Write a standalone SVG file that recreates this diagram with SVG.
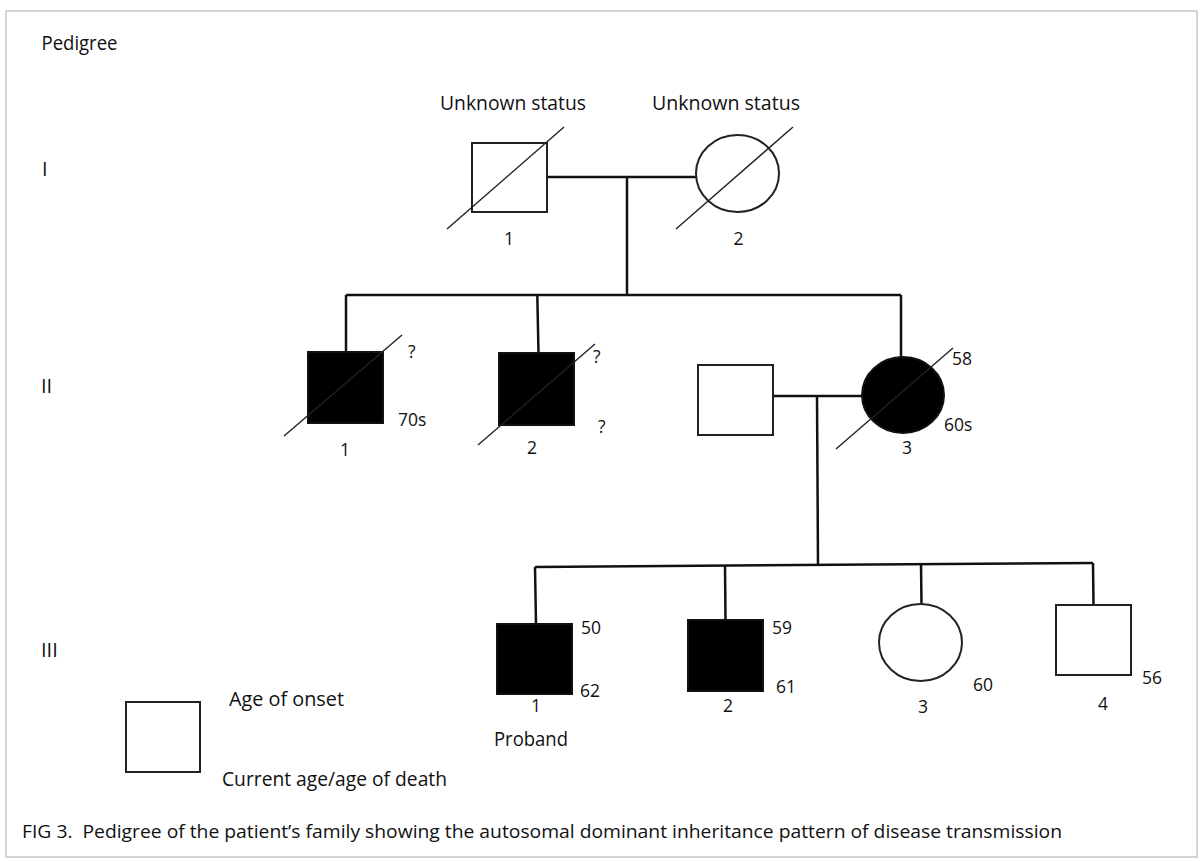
<svg xmlns="http://www.w3.org/2000/svg" width="1203" height="861" viewBox="0 0 1203 861">
<style>
text{font-family:"Open Sans","Liberation Sans",sans-serif;fill:#111}
.t{font-size:20px}
.n{font-size:17.5px}
.m{text-anchor:middle}
.sym{fill:#fff;stroke:#222;stroke-width:2}
.aff{fill:#000;stroke:#111;stroke-width:2}
.ln{stroke:#111;stroke-width:2.5;fill:none}
.sl{stroke:#222;stroke-width:1.4;fill:none}
</style>
<rect x="6" y="11" width="1191" height="846" fill="#fff" stroke="#c8c8c8" stroke-width="1.5"/>
<text class="t" x="41.5" y="49.5" textLength="76" lengthAdjust="spacingAndGlyphs">Pedigree</text>
<text class="t" x="42" y="176">I</text>
<text class="t" x="41" y="393">II</text>
<text class="t" x="41" y="657">III</text>

<g id="connectors">
<line class="ln" x1="547" y1="177" x2="696" y2="177"/>
<line class="ln" x1="627" y1="177" x2="627" y2="295"/>
<line class="ln" x1="346" y1="295" x2="901" y2="295"/>
<line class="ln" x1="346" y1="295" x2="346" y2="352"/>
<line class="ln" x1="537.3" y1="295" x2="538.5" y2="353"/>
<line class="ln" x1="901" y1="295" x2="901" y2="357"/>
<line class="ln" x1="773" y1="396" x2="862" y2="396"/>
<line class="ln" x1="817" y1="396" x2="818" y2="565"/>
<line class="ln" x1="535" y1="567" x2="1093" y2="563"/>
<line class="ln" x1="535" y1="567" x2="536" y2="624"/>
<line class="ln" x1="725" y1="565" x2="725.5" y2="620"/>
<line class="ln" x1="921" y1="563" x2="921.5" y2="604"/>
<line class="ln" x1="1093" y1="563" x2="1093.5" y2="605"/>
</g>

<g id="I-1">
<text class="t" x="440" y="110" textLength="146" lengthAdjust="spacingAndGlyphs">Unknown status</text>
<rect class="sym" x="472" y="143" width="75" height="69"/>
<line class="sl" x1="447" y1="229" x2="564" y2="127"/>
<text class="n m" x="509" y="244.5">1</text>
</g>
<g id="I-2">
<text class="t" x="652" y="110" textLength="148" lengthAdjust="spacingAndGlyphs">Unknown status</text>
<ellipse class="sym" cx="737.5" cy="173.5" rx="41.5" ry="38.5"/>
<line class="sl" x1="676" y1="229" x2="793" y2="127"/>
<text class="n m" x="738.5" y="245">2</text>
</g>

<g id="II-1">
<rect class="aff" x="308" y="352" width="75" height="71"/>
<line class="sl" x1="284" y1="436" x2="402" y2="335"/>
<text class="n" x="408" y="358">?</text>
<text class="n" x="398" y="426">70s</text>
<text class="n m" x="345" y="455.5">1</text>
</g>
<g id="II-2">
<rect class="aff" x="499" y="353" width="75" height="72"/>
<line class="sl" x1="478" y1="445" x2="595" y2="344"/>
<text class="n" x="593" y="363">?</text>
<text class="n" x="598" y="433">?</text>
<text class="n m" x="532" y="454">2</text>
</g>
<g id="II-spouse">
<rect class="sym" x="698" y="365" width="75" height="70"/>
</g>
<g id="II-3">
<ellipse class="aff" cx="903" cy="395" rx="41" ry="38"/>
<line class="sl" x1="836" y1="449" x2="953" y2="348"/>
<text class="n" x="952" y="365">58</text>
<text class="n" x="944" y="431">60s</text>
<text class="n m" x="907" y="454">3</text>
</g>

<g id="III-1">
<rect class="aff" x="497" y="624" width="75" height="70"/>
<text class="n" x="581" y="634">50</text>
<text class="n" x="580" y="697">62</text>
<text class="n m" x="536" y="712">1</text>
<text class="t" x="494" y="746" textLength="74" lengthAdjust="spacingAndGlyphs">Proband</text>
</g>
<g id="III-2">
<rect class="aff" x="688" y="620" width="75" height="71"/>
<text class="n" x="772" y="634">59</text>
<text class="n" x="776" y="693">61</text>
<text class="n m" x="728" y="712">2</text>
</g>
<g id="III-3">
<ellipse class="sym" cx="920.5" cy="642.5" rx="41.5" ry="38.5"/>
<text class="n" x="973" y="691">60</text>
<text class="n m" x="923" y="713">3</text>
</g>
<g id="III-4">
<rect class="sym" x="1056" y="605" width="75" height="70"/>
<text class="n" x="1142" y="684">56</text>
<text class="n m" x="1103" y="710">4</text>
</g>

<g id="legend">
<rect class="sym" x="126" y="702" width="74" height="70"/>
<text class="t" x="229" y="706" textLength="115" lengthAdjust="spacingAndGlyphs">Age of onset</text>
<text class="t" x="222" y="786" textLength="225" lengthAdjust="spacingAndGlyphs">Current age/age of death</text>
</g>

<text x="22" y="838" textLength="1040" lengthAdjust="spacingAndGlyphs" style="font-size:19px">FIG 3.&#160; Pedigree of the patient’s family showing the autosomal dominant inheritance pattern of disease transmission</text>
</svg>
